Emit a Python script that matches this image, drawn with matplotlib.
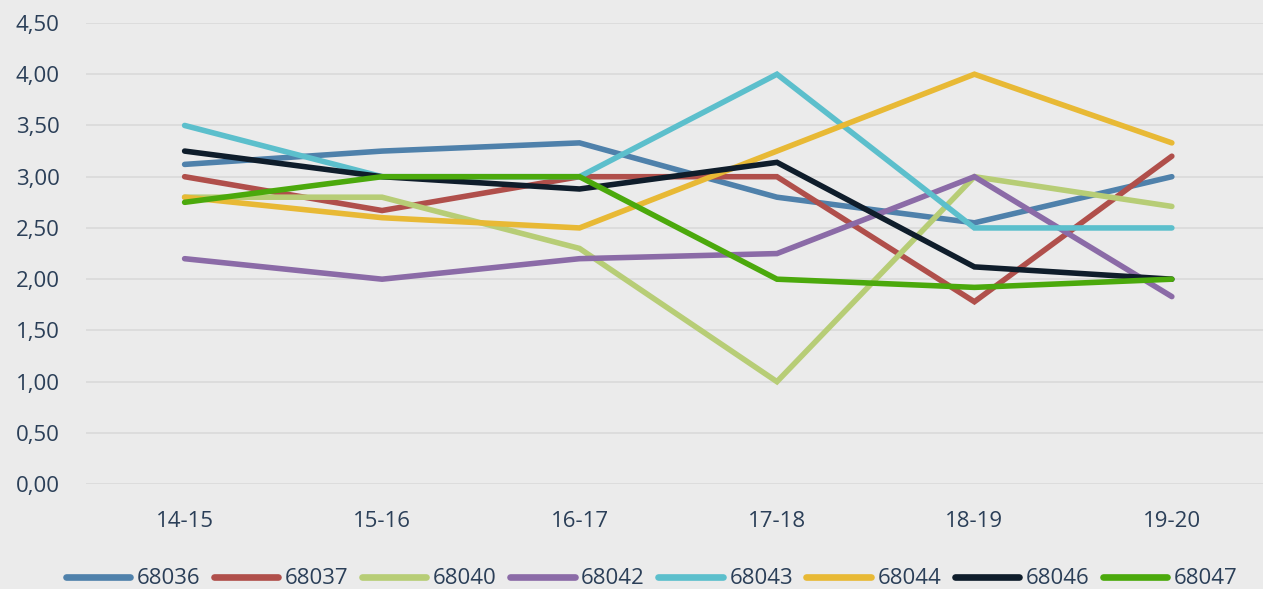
import matplotlib
matplotlib.use("Agg")
import matplotlib.pyplot as plt
from matplotlib.ticker import FuncFormatter

categories = ["14-15", "15-16", "16-17", "17-18", "18-19", "19-20"]
series_names = ["68036", "68037", "68040", "68042", "68043", "68044", "68046", "68047"]
s68036 = [3.12, 3.25, 3.33, 2.80, 2.55, 3.00]
s68037 = [3.00, 2.67, 3.00, 3.00, 1.78, 3.20]
s68040 = [2.80, 2.80, 2.30, 1.00, 3.00, 2.71]
s68042 = [2.20, 2.00, 2.20, 2.25, 3.00, 1.83]
s68043 = [3.50, 3.00, 3.00, 4.00, 2.50, 2.50]
s68044 = [2.80, 2.60, 2.50, 3.25, 4.00, 3.33]
s68046 = [3.25, 3.00, 2.88, 3.14, 2.12, 2.00]
s68047 = [2.75, 3.00, 3.00, 2.00, 1.92, 2.00]
series_values = [s68036, s68037, s68040, s68042, s68043, s68044, s68046, s68047]
colors = ["#4f81ab", "#b04f4b", "#b7cd76", "#8b6ba7", "#5cbfcc", "#e8b935", "#0f1d2b", "#4ba90c"]

bg = "#ebebeb"
text_color = "#2b3f58"
plt.rcParams['font.family'] = ['Open Sans', 'DejaVu Sans']

fig = plt.figure(figsize=(12.63, 5.89), dpi=100, facecolor=bg)
ax = fig.add_axes([0.068, 0.178, 0.938, 0.783])
ax.set_facecolor(bg)

x = list(range(len(categories)))
for name, vals, c in zip(series_names, series_values, colors):
    ax.plot(x, vals, color=c, lw=4.0, label=name, solid_capstyle='round', solid_joinstyle='miter')

ax.set_xlim(-0.5, 5.5)
ax.set_ylim(0, 4.5)
ax.set_yticks([i * 0.5 for i in range(10)])
ax.yaxis.set_major_formatter(FuncFormatter(lambda v, p: f"{v:.2f}".replace(".", ",")))
ax.set_xticks(x)
ax.set_xticklabels(categories)
ax.grid(axis='y', color="#d9d9d9", lw=1.2)
ax.set_axisbelow(True)
for s in ax.spines.values():
    s.set_visible(False)
ax.tick_params(axis='both', length=0, colors=text_color, labelsize=16)
ax.tick_params(axis='y', pad=19)
ax.tick_params(axis='x', pad=19)

leg = fig.legend(loc='center', bbox_to_anchor=(0.516, 0.017), ncol=8, frameon=False,
                 fontsize=16, handlelength=2.9, handletextpad=0.3, columnspacing=0.6,
                 labelcolor=text_color, borderpad=0)
for h in leg.get_lines():
    h.set_linewidth(4.8)

fig.savefig("out.png", dpi=100, facecolor=bg)
